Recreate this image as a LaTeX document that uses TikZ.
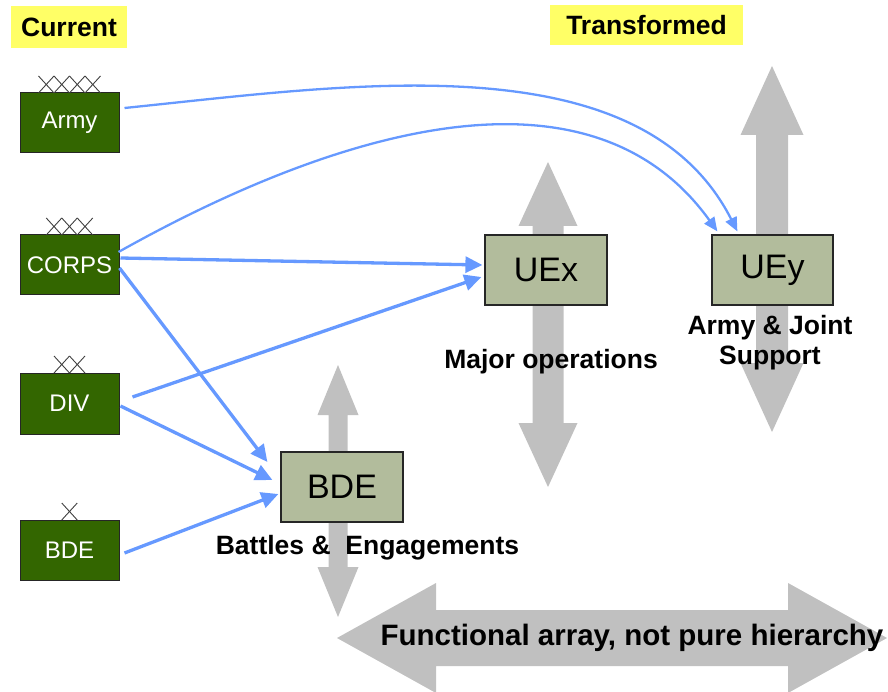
\documentclass[tikz,border=0pt]{standalone}
\usepackage{fontspec}
\setmainfont{Liberation Sans}
\usetikzlibrary{arrows.meta,calc}
\definecolor{armygreen}{HTML}{336600}
\definecolor{sage}{HTML}{B2BC9C}
\definecolor{arrowgray}{HTML}{C0C0C0}
\definecolor{linkblue}{HTML}{6699FF}
\definecolor{hiyellow}{HTML}{FFFF66}
\newcommand{\vdblarrow}[6]{% x, ytop, ybot, headhalf, shafthalf, headlen
  \fill[arrowgray] (#1,#2) -- ({#1+#4},{#2+#6}) -- ({#1+#5},{#2+#6}) -- ({#1+#5},{#3-#6})
    -- ({#1+#4},{#3-#6}) -- (#1,#3) -- ({#1-#4},{#3-#6}) -- ({#1-#5},{#3-#6})
    -- ({#1-#5},{#2+#6}) -- ({#1-#4},{#2+#6}) -- cycle;}
\newcommand{\hdblarrow}[6]{% y, xleft, xright, headhalf, shafthalf, headlen
  \fill[arrowgray] (#2,#1) -- ({#2+#6},{#1-#4}) -- ({#2+#6},{#1-#5}) -- ({#3-#6},{#1-#5})
    -- ({#3-#6},{#1-#4}) -- (#3,#1) -- ({#3-#6},{#1+#4}) -- ({#3-#6},{#1+#5})
    -- ({#2+#6},{#1+#5}) -- ({#2+#6},{#1+#4}) -- cycle;}
\newcommand{\echelonmark}[3]{% x centre, y bottom, count
  \foreach \i in {1,...,#3}{%
    \draw[echelonline] ({#1-#3*7.75+(\i-1)*15.5},#2) -- ({#1-#3*7.75+\i*15.5},{#2-17})
      ({#1-#3*7.75+(\i-1)*15.5},{#2-17}) -- ({#1-#3*7.75+\i*15.5},#2);}}
\begin{document}
\begin{tikzpicture}[x=1pt,y=-1pt,
  greenbox/.style={draw=black!85,line width=1pt,fill=armygreen,text=white,
    minimum width=99pt,minimum height=60pt,inner sep=0pt,font=\fontsize{24}{28}\selectfont},
  sagebox/.style={draw=black!85,line width=1.2pt,fill=sage,text=black,
    minimum width=122pt,minimum height=70pt,inner sep=0pt,font=\fontsize{34}{38}\selectfont},
  tag/.style={fill=hiyellow,inner sep=0pt,font=\fontsize{26.5}{30}\selectfont\bfseries},
  lbl/.style={inner sep=0pt,font=\fontsize{26.5}{30}\selectfont\bfseries,align=center},
  echelonline/.style={line width=0.9pt,draw=black!75},
  conn/.style={draw=linkblue,line width=3.3pt,-{Triangle[length=17pt,width=16pt]}},
  curveconn/.style={draw=linkblue,line width=2.3pt,-{Triangle[length=14pt,width=12pt]}}]
\useasboundingbox (0,0) rectangle (888,692);

% grey double arrows
\vdblarrow{548}{162}{487}{29.5}{15.5}{64}
\vdblarrow{772}{66}{432}{31.5}{16}{69}
\vdblarrow{338}{365}{617}{20.5}{9.5}{50}
\hdblarrow{638}{337}{887}{55}{28}{99}

% headings
\node[tag,minimum width=116pt,minimum height=42pt] (current) at (69,27) {Current};
\node[tag,minimum width=193pt,minimum height=40pt] (transformed) at (646.5,25) {Transformed};

% current echelons
\node[greenbox] (army) at (69.5,123) {Army};
\node[greenbox] (corps) at (69.5,265) {CORPS};
\node[greenbox,minimum height=61pt] (div) at (69.5,403.5) {DIV};
\node[greenbox] (bdes) at (69.5,550) {BDE};
\echelonmark{69.5}{93}{4}
\echelonmark{69.5}{235}{3}
\echelonmark{69.5}{373}{2}
\echelonmark{69.5}{520}{1}

% transformed units
\node[sagebox] (bde) at (342,487) {BDE};
\node[sagebox] (uex) at (546,270) {UEx};
\node[sagebox,minimum width=121pt] (uey) at (772.5,270) {UEy};

% labels
\node[lbl] (battles) at (367.5,548) {Battles \& \ Engagements};
\node[lbl] (majorops) at (551,362) {Major operations};
\node[lbl] (jointsup) at (770,343) {Army \& Joint\\Support};
\node[lbl,font=\fontsize{29.5}{32}\selectfont\bfseries] (functional) at (632,638) {Functional array, not pure hierarchy};

% connectors
\draw[curveconn] ($(army.east)+(5,-15)$) .. controls (350,85) and (640,40) .. ($(uey.north west)+(26,-3)$);
\draw[curveconn] ($(corps.east)+(-1,-13)$) .. controls (300,150) and (580,40) .. ($(uey.north west)+(6,-3)$);
\draw[conn] ($(corps.east)+(1,-7)$) -- ($(uex.west)+(-2,-5)$);
\draw[conn] ($(div.east)+(13,-6.5)$) -- ($(uex.west)+(-3,7)$);
\draw[conn] ($(corps.east)+(0,3)$) -- ($(bde.west)+(-13,-25)$);
\draw[conn] ($(div.east)+(1,2.5)$) -- ($(bde.west)+(-8,-7)$);
\draw[conn] ($(bdes.east)+(5,3)$) -- ($(bde.west)+(-2,7)$);
\end{tikzpicture}
\end{document}
